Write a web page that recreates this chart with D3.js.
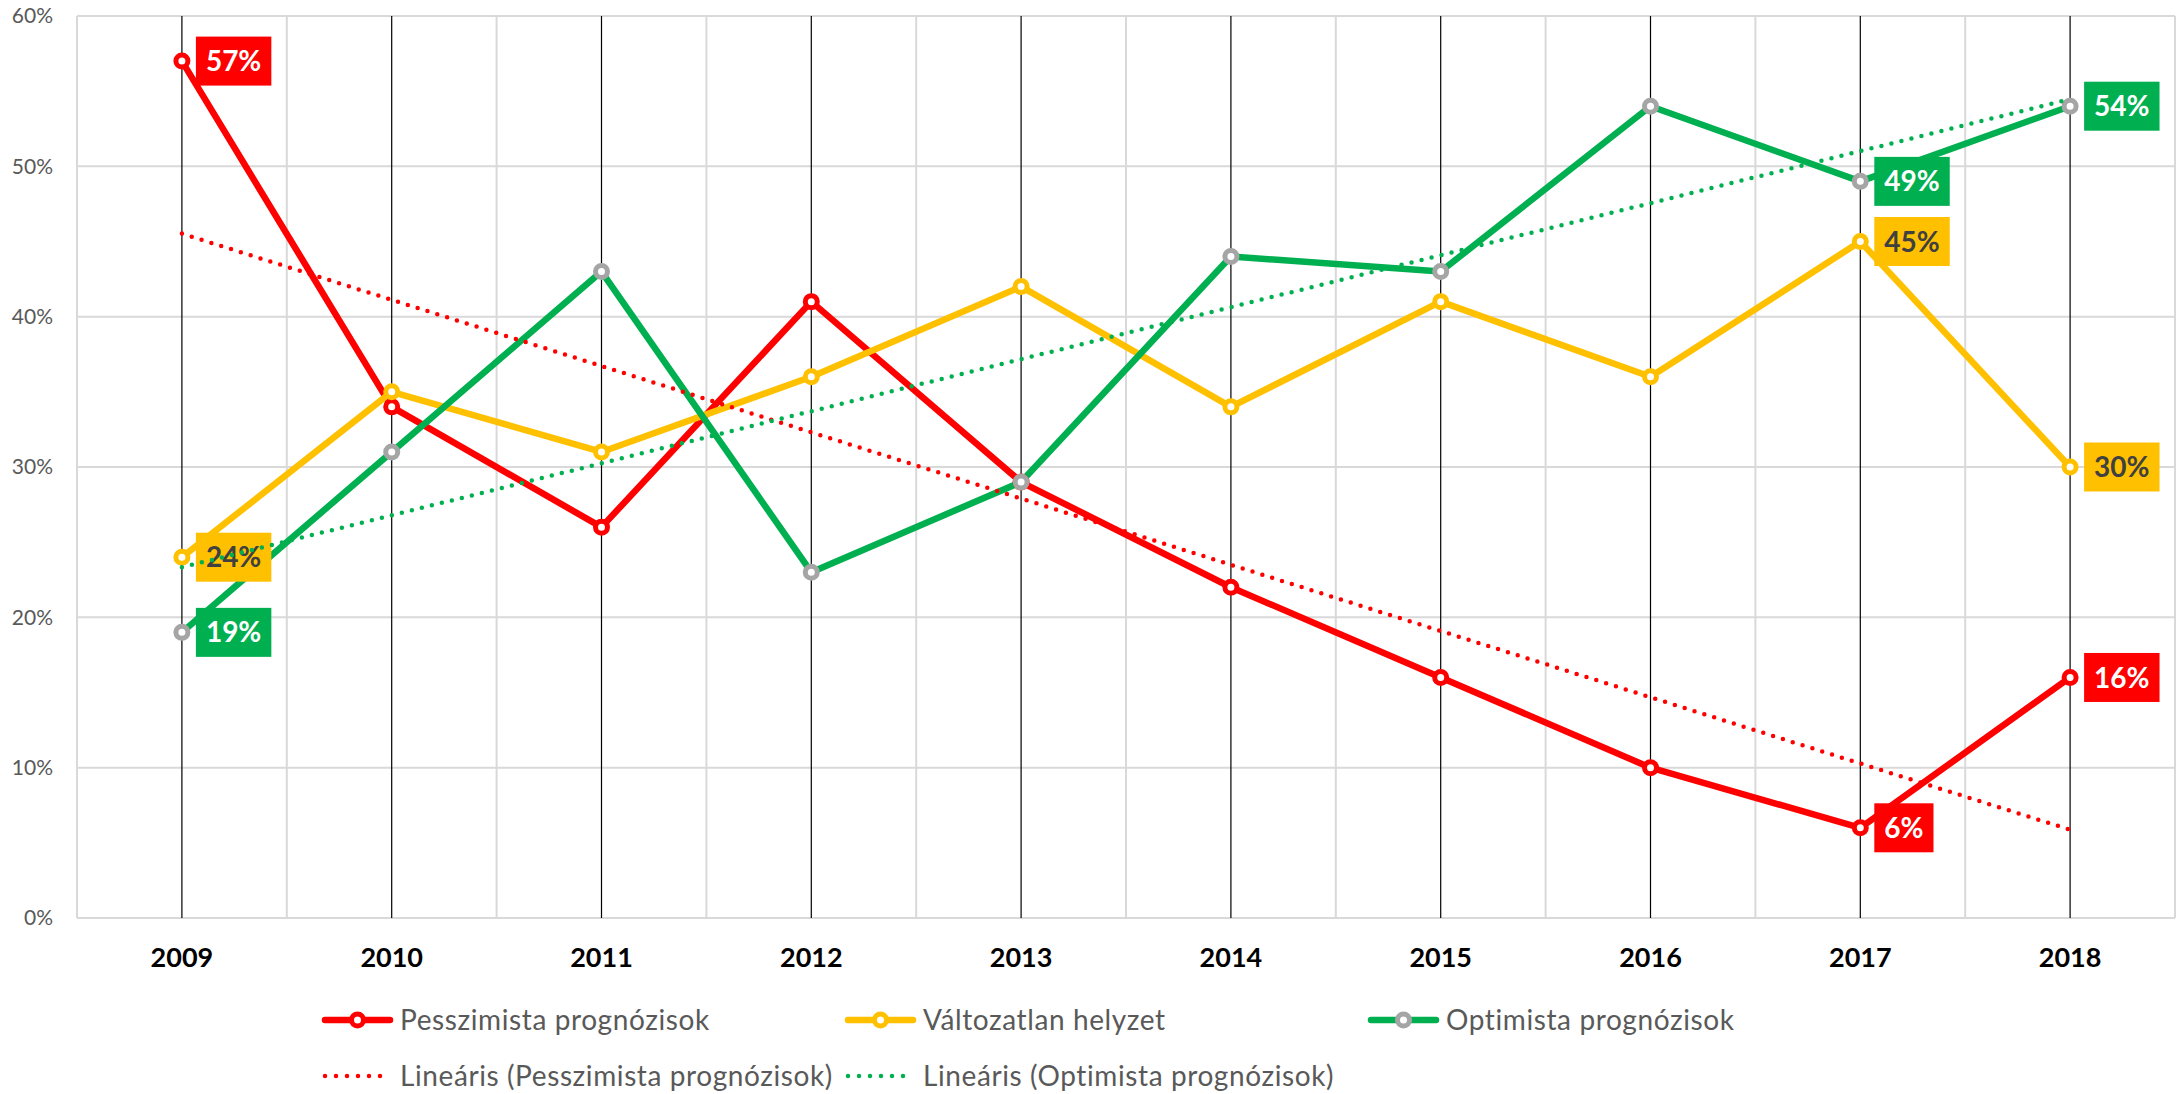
<!DOCTYPE html>
<html>
<head>
<meta charset="utf-8">
<script src="https://cdn.jsdelivr.net/npm/d3@7"></script>
<style>
  html, body { margin: 0; padding: 0; background: #fff; }
  svg { display: block; font-family: 'Lato', 'Noto Sans', sans-serif; }
</style>
</head>
<body>
<svg id="chart" width="2183" height="1094"></svg>
<script>
// ---- Data (percent) ----
const years = ['2009', '2010', '2011', '2012', '2013', '2014', '2015', '2016', '2017', '2018'];
const pesszimista = [57, 34, 26, 41, 29, 22, 16, 10, 6, 16];
const valtozatlan = [24, 35, 31, 36, 42, 34, 41, 36, 45, 30];
const optimista = [19, 31, 43, 23, 29, 44, 43, 54, 49, 54];
const yTicks = [0, 10, 20, 30, 40, 50, 60];
const labelledYears = ['2009', '2017', '2018'];

(function () {
  'use strict';

  const COLORS = {
    red: '#FF0000',
    yellow: '#FFC000',
    green: '#00B050',
    grey: '#A5A5A5',
    grid: '#D9D9D9',
    text: '#595959',
  };

  const series = [
    { name: 'Pesszimista prognózisok', values: pesszimista, color: COLORS.red, marker: COLORS.red, labelText: '#fff' },
    { name: 'Változatlan helyzet', values: valtozatlan, color: COLORS.yellow, marker: COLORS.yellow, labelText: '#404040' },
    { name: 'Optimista prognózisok', values: optimista, color: COLORS.green, marker: COLORS.grey, labelText: '#fff' },
  ];

  const svg = d3.select('#chart');

  const plot = { left: 77, right: 2175, top: 16, bottom: 918 };

  const x = d3.scaleBand().domain(years).range([plot.left, plot.right]);
  const y = d3.scaleLinear().domain([0, 60]).range([plot.bottom, plot.top]);

  function cx(year) {
    return x(year) + x.bandwidth() / 2;
  }

  // ---- Grid ----
  const grid = svg.append('g').attr('class', 'grid');

  grid.selectAll('line.h')
    .data(yTicks)
    .enter()
    .append('line')
    .attr('x1', plot.left)
    .attr('x2', plot.right)
    .attr('y1', function (d) { return y(d); })
    .attr('y2', function (d) { return y(d); })
    .attr('stroke', COLORS.grid)
    .attr('stroke-width', 2);

  const bounds = years.map(function (d) { return x(d); }).concat([plot.right]);
  grid.selectAll('line.v')
    .data(bounds)
    .enter()
    .append('line')
    .attr('x1', function (d) { return d; })
    .attr('x2', function (d) { return d; })
    .attr('y1', plot.top)
    .attr('y2', plot.bottom)
    .attr('stroke', COLORS.grid)
    .attr('stroke-width', 2);

  // black line on each category
  grid.selectAll('line.c')
    .data(years)
    .enter()
    .append('line')
    .attr('x1', cx)
    .attr('x2', cx)
    .attr('y1', plot.top)
    .attr('y2', plot.bottom)
    .attr('stroke', '#000')
    .attr('stroke-width', 1.2);

  // ---- Axes ----
  const yAxis = svg.append('g')
    .attr('transform', 'translate(' + plot.left + ',0)')
    .call(d3.axisLeft(y).tickValues(yTicks).tickSize(0).tickPadding(24)
      .tickFormat(function (d) { return d + '%'; }));
  yAxis.select('.domain').remove();
  yAxis.selectAll('text')
    .attr('font-family', "'Lato', sans-serif")
    .attr('font-size', 21)
    .attr('fill', COLORS.text);

  const xAxis = svg.append('g')
    .attr('transform', 'translate(0,' + plot.bottom + ')')
    .call(d3.axisBottom(x).tickSize(0).tickPadding(30));
  xAxis.select('.domain').remove();
  xAxis.selectAll('text')
    .attr('font-family', "'Lato', sans-serif")
    .attr('font-size', 27)
    .attr('font-weight', 'bold')
    .attr('fill', '#000');

  // ---- Series lines ----
  const line = d3.line()
    .x(function (d, i) { return cx(years[i]); })
    .y(function (d) { return y(d); });

  series.forEach(function (s) {
    svg.append('path')
      .datum(s.values)
      .attr('d', line)
      .attr('fill', 'none')
      .attr('stroke', s.color)
      .attr('stroke-width', 6.5)
      .attr('stroke-linejoin', 'round');
  });

  series.forEach(function (s) {
    svg.append('g')
      .selectAll('circle')
      .data(s.values)
      .enter()
      .append('circle')
      .attr('cx', function (d, i) { return cx(years[i]); })
      .attr('cy', function (d) { return y(d); })
      .attr('r', 6)
      .attr('fill', '#fff')
      .attr('stroke', s.marker)
      .attr('stroke-width', 5);
  });

  // ---- Data labels ----
  series.forEach(function (s) {
    labelledYears.forEach(function (yr) {
      const i = years.indexOf(yr);
      const px = cx(yr);
      const py = y(s.values[i]);
      const g = svg.append('g');
      const rect = g.append('rect').attr('fill', s.color);
      const t = g.append('text')
        .text(s.values[i] + '%')
        .attr('font-family', "'Lato', sans-serif")
        .attr('font-size', 28)
        .attr('font-weight', 'bold')
        .attr('fill', s.labelText)
        .attr('x', px + 24)
        .attr('y', py)
        .attr('dy', '0.36em');
      const w = t.node().getComputedTextLength();
      rect
        .attr('x', px + 14)
        .attr('y', py - 24.5)
        .attr('width', w + 20)
        .attr('height', 49);
    });
  });

  // ---- Linear trendlines ----
  function fit(values) {
    const n = values.length;
    const mx = d3.mean(values, function (d, i) { return i; });
    const my = d3.mean(values);
    let sxy = 0, sxx = 0;
    values.forEach(function (v, i) {
      sxy += (i - mx) * (v - my);
      sxx += (i - mx) * (i - mx);
    });
    const b = sxy / sxx;
    const a = my - b * mx;
    return [a, a + b * (n - 1)];
  }

  [{ values: pesszimista, color: COLORS.red }, { values: optimista, color: COLORS.green }].forEach(function (tr) {
    const ends = fit(tr.values);
    svg.append('line')
      .attr('x1', cx(years[0]))
      .attr('x2', cx(years[years.length - 1]))
      .attr('y1', y(ends[0]))
      .attr('y2', y(ends[1]))
      .attr('stroke', tr.color)
      .attr('stroke-width', 4.5)
      .attr('stroke-linecap', 'round')
      .attr('stroke-dasharray', '0 10.3');
  });

  // ---- Legend ----
  const legendItems = [
    { label: 'Pesszimista prognózisok', color: COLORS.red, marker: COLORS.red, dotted: false, col: 0, row: 0 },
    { label: 'Változatlan helyzet', color: COLORS.yellow, marker: COLORS.yellow, dotted: false, col: 1, row: 0 },
    { label: 'Optimista prognózisok', color: COLORS.green, marker: COLORS.grey, dotted: false, col: 2, row: 0 },
    { label: 'Lineáris (Pesszimista prognózisok)', color: COLORS.red, dotted: true, col: 0, row: 1 },
    { label: 'Lineáris (Optimista prognózisok)', color: COLORS.green, dotted: true, col: 1, row: 1 },
  ];
  const legendX = [322, 845, 1368];
  const legendY = [1020, 1076];

  legendItems.forEach(function (it) {
    const lx = legendX[it.col];
    const ly = legendY[it.row];
    const g = svg.append('g');
    if (it.dotted) {
      g.append('line')
        .attr('x1', lx + 3).attr('x2', lx + 69)
        .attr('y1', ly).attr('y2', ly)
        .attr('stroke', it.color)
        .attr('stroke-width', 4.5)
        .attr('stroke-linecap', 'round')
        .attr('stroke-dasharray', '0 11');
    } else {
      g.append('line')
        .attr('x1', lx + 3).attr('x2', lx + 68)
        .attr('y1', ly).attr('y2', ly)
        .attr('stroke', it.color)
        .attr('stroke-width', 6.5)
        .attr('stroke-linecap', 'round');
      g.append('circle')
        .attr('cx', lx + 35.5).attr('cy', ly)
        .attr('r', 6)
        .attr('fill', '#fff')
        .attr('stroke', it.marker)
        .attr('stroke-width', 5);
    }
    g.append('text')
      .text(it.label)
      .attr('x', lx + 78)
      .attr('y', ly)
      .attr('dy', '0.36em')
      .attr('font-family', "'Lato', sans-serif")
      .attr('font-size', 28)
      .attr('letter-spacing', 0.6)
      .attr('fill', COLORS.text);
  });
})();
</script>
</body>
</html>
